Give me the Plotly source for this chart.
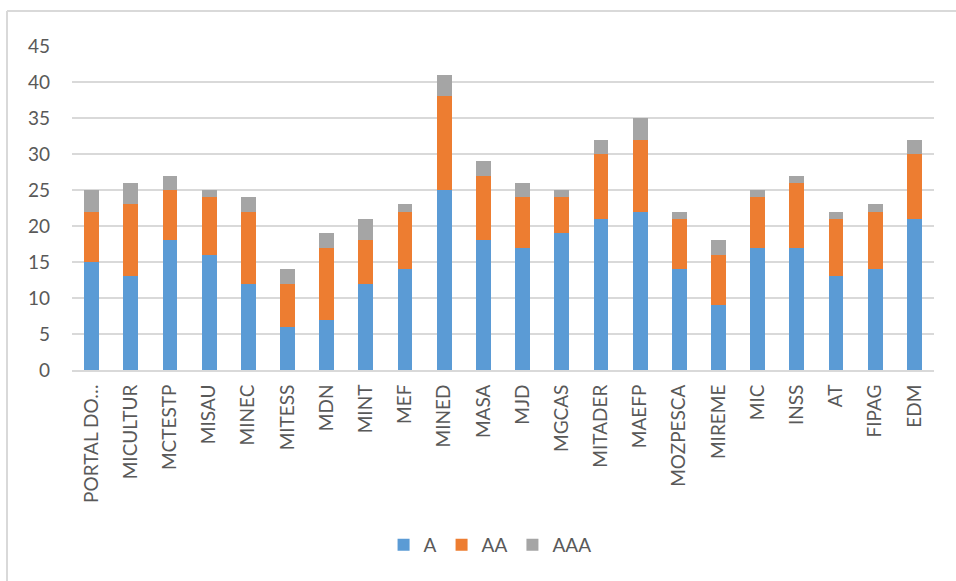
import plotly.graph_objects as go

categories = ["PORTAL DO…", "MICULTUR", "MCTESTP", "MISAU", "MINEC", "MITESS", "MDN",
              "MINT", "MEF", "MINED", "MASA", "MJD", "MGCAS", "MITADER", "MAEFP",
              "MOZPESCA", "MIREME", "MIC", "INSS", "AT", "FIPAG", "EDM"]
a_vals = [15, 13, 18, 16, 12, 6, 7, 12, 14, 25, 18, 17, 19, 21, 22, 14, 9, 17, 17, 13, 14, 21]
aa_vals = [7, 10, 7, 8, 10, 6, 10, 6, 8, 13, 9, 7, 5, 9, 10, 7, 7, 7, 9, 8, 8, 9]
aaa_vals = [3, 3, 2, 1, 2, 2, 2, 3, 1, 3, 2, 2, 1, 2, 3, 1, 2, 1, 1, 1, 1, 2]
y_ticks = [0, 5, 10, 15, 20, 25, 30, 35, 40, 45]

series = [("A", a_vals, "#5B9BD5"), ("AA", aa_vals, "#ED7D31"), ("AAA", aaa_vals, "#A5A5A5")]

fig = go.Figure()
for name, vals, color in series:
    fig.add_trace(go.Bar(x=categories, y=vals, name=name,
                         marker=dict(color=color, line=dict(width=0))))

W, H = 956, 581
L, R, T, B = 72, 22, 46, 211
pw, ph = W - L - R, H - T - B

fig.update_layout(
    width=W, height=H, barmode="stack", bargap=0.62,
    margin=dict(l=L, r=R, t=T, b=B, pad=0),
    paper_bgcolor="white", plot_bgcolor="white",
    font=dict(family="Lato, Carlito, sans-serif", size=19, color="#595959"),
    xaxis=dict(showgrid=False, showline=True, linecolor="#D9D9D9", linewidth=2,
               tickangle=-90, ticks="", tickfont=dict(size=19, color="#595959"),
               ticklabelstandoff=5),
    yaxis=dict(range=[0, 45], tickvals=y_ticks, showgrid=True, gridcolor="#D9D9D9",
               gridwidth=2, zeroline=False, showline=False, ticks="",
               ticklabelstandoff=21, tickfont=dict(size=19, color="#595959")),
    legend=dict(orientation="h", x=0.485, xanchor="center", y=-0.54, yanchor="middle",
                font=dict(size=19, color="#595959"), itemwidth=30, traceorder="normal"),
    showlegend=True,
)

# outer chart border (left and top edges visible in the reference)
x_left = (7 - L) / pw
x_right = (W - L) / pw
y_top = (H - B - 11) / ph
y_bot = -(B) / ph
fig.add_shape(type="line", xref="paper", yref="paper", x0=x_left, x1=x_left, y0=y_bot, y1=y_top,
              line=dict(color="#D9D9D9", width=2))
fig.add_shape(type="line", xref="paper", yref="paper", x0=x_left, x1=x_right, y0=y_top, y1=y_top,
              line=dict(color="#D9D9D9", width=2))

fig.write_html("out.html")
